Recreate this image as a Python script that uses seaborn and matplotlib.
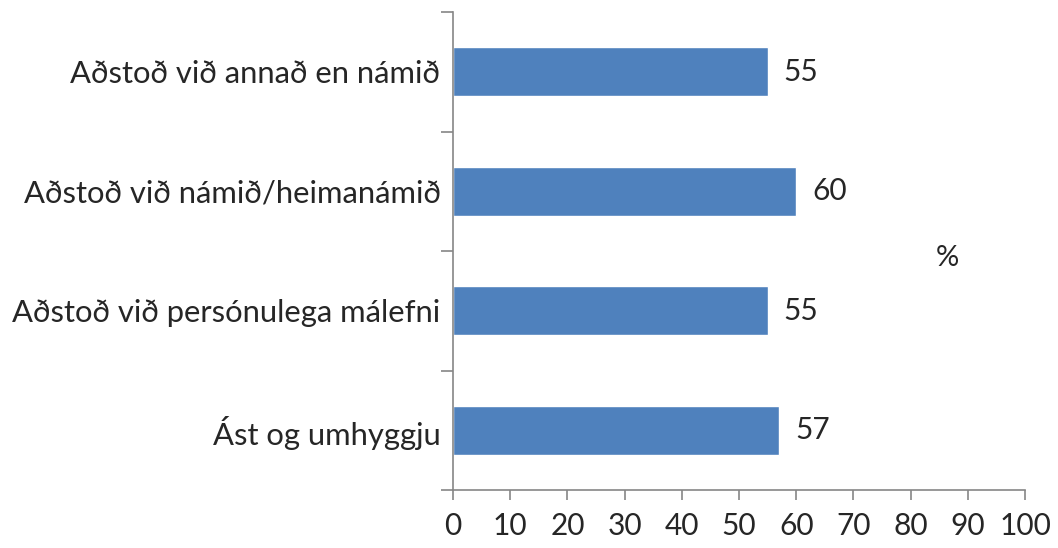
import matplotlib
matplotlib.use('Agg')
import matplotlib.pyplot as plt
import seaborn as sns
import pandas as pd
from matplotlib.ticker import FixedLocator

# data (top to bottom)
categories = ['Aðstoð við annað en námið',
              'Aðstoð við námið/heimanámið',
              'Aðstoð við persónulega málefni',
              'Ást og umhyggju']
values = [55, 60, 55, 57]

df = pd.DataFrame({'flokkur': categories, 'hlutfall': values})

sns.set_style('white')
plt.rcParams['font.family'] = ['Lato', 'DejaVu Sans']

fig = plt.figure(figsize=(10.58, 5.48), dpi=100)
ax = fig.add_axes([453/1058, 1 - 490/548, (1025 - 453)/1058, (490 - 12)/548])

sns.barplot(data=df, x='hlutfall', y='flokkur', orient='h', color='#4F81BD',
            width=0.41, saturation=1, ax=ax)

for i, v in enumerate(values):
    ax.text(v + 2.8, i, str(v), va='center', ha='left', fontsize=21.5)

ax.text(0.865, 0.485, '%', transform=ax.transAxes, fontsize=21,
        ha='center', va='center')

ax.set_xlim(0, 100)
ax.set_ylim(3.5, -0.5)
ax.set_xticks(range(0, 101, 10))
ax.set_xlabel('')
ax.set_ylabel('')

grey = '#868686'
for side in ['top', 'right']:
    ax.spines[side].set_visible(False)
for side in ['left', 'bottom']:
    ax.spines[side].set_color(grey)
    ax.spines[side].set_linewidth(1.2)

ax.yaxis.set_minor_locator(FixedLocator([-0.5, 0.5, 1.5, 2.5, 3.5]))
ax.tick_params(axis='y', which='major', length=0, pad=9, labelsize=22.3)
ax.tick_params(axis='y', which='minor', length=9, width=1.2, color=grey, direction='out', left=True)
ax.tick_params(axis='x', which='major', length=7, width=1.2, color=grey, direction='out',
               bottom=True, pad=9, labelsize=21.5)

fig.savefig('out.png', dpi=100)
